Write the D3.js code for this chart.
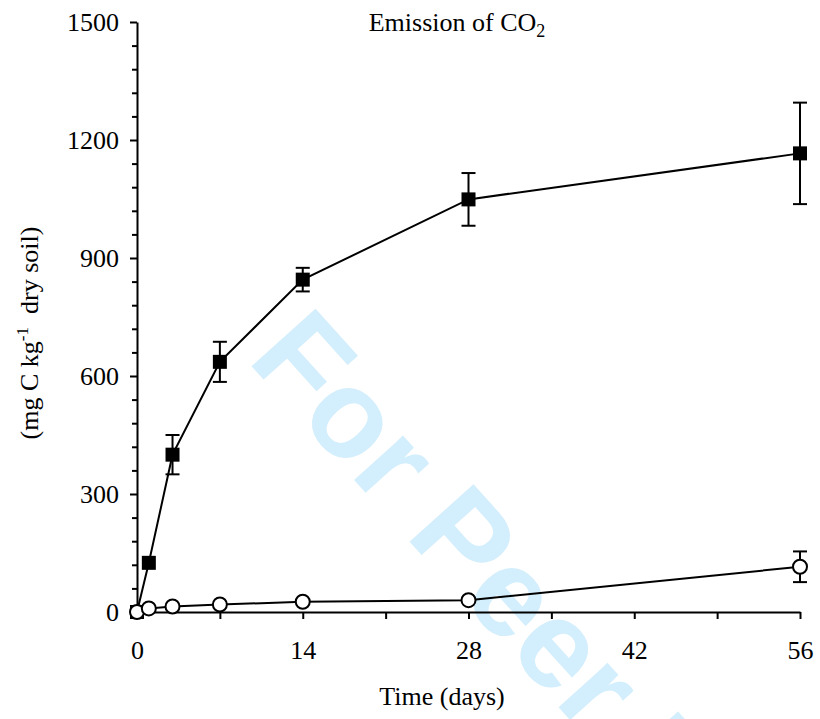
<!DOCTYPE html>
<html>
<head>
<meta charset="utf-8">
<script src="https://cdn.jsdelivr.net/npm/d3@7"></script>
<style>
  html, body { margin: 0; padding: 0; background: #fff; }
  svg { display: block; }
  text { font-family: "Liberation Serif", "DejaVu Serif", serif; fill: #000; }
</style>
</head>
<body>
<svg id="chart" width="820" height="719"></svg>
<script>
// Sampling days
const days = [0, 1, 3, 7, 14, 28, 56];

// Cumulative CO2-C emission (mg C kg-1 dry soil), amended soil
const amendedMean = [0, 125, 400, 636, 845, 1049, 1166];
const amendedErr  = [0, 0, 50, 51, 30, 67, 129];

// Cumulative CO2-C emission, control soil
const controlMean = [0, 9, 14, 19, 26, 30, 115];
const controlErr  = [0, 0, 0, 0, 0, 0, 39];

// Axis ticks
const xTicks = [0, 7, 14, 21, 28, 35, 42, 49, 56];
const xTickLabels = [0, 14, 28, 42, 56];
const yMajor = [0, 300, 600, 900, 1200, 1500];
const yMinor = d3.range(0, 1501, 60).filter(v => v % 300 !== 0);

const svg = d3.select("#chart");
const plotLeft = 137, plotRight = 800, plotTop = 22, plotBottom = 612;

const x = d3.scaleLinear().domain([0, 56]).range([plotLeft, plotRight]);
const y = d3.scaleLinear().domain([0, 1500]).range([plotBottom, plotTop]);

// Background watermark
svg.append("text")
  .attr("transform", "translate(246,360) rotate(48)")
  .style("font-family", "'Liberation Sans', Arial, sans-serif")
  .style("font-weight", "bold")
  .style("font-size", "125px")
  .style("fill", "#d3eefc")
  .text("For Peer Review");

// Y axis: minor ticks, then labelled major ticks
svg.append("g")
  .attr("transform", `translate(${plotLeft},0)`)
  .call(d3.axisLeft(y).tickValues(yMinor).tickSize(5).tickFormat(""))
  .call(g => g.select(".domain").remove());

const yAxis = svg.append("g")
  .attr("transform", `translate(${plotLeft},0)`)
  .call(d3.axisLeft(y).tickValues(yMajor).tickSize(7).tickSizeOuter(0).tickPadding(11)
    .tickFormat(d3.format("d")));

// X axis
const xAxis = svg.append("g")
  .attr("transform", `translate(0,${plotBottom})`)
  .call(d3.axisBottom(x).tickValues(xTicks).tickSize(7).tickSizeOuter(0).tickPadding(22)
    .tickFormat(d => xTickLabels.includes(d) ? d : ""));

[yAxis, xAxis].forEach(g => {
  g.selectAll("text").style("font-size", "26px").style("font-family", "'Liberation Serif', serif");
});
svg.selectAll(".domain").attr("stroke", "#000").attr("stroke-width", 2);
svg.selectAll(".tick line").attr("stroke", "#000").attr("stroke-width", 2);

// Title with subscript
const title = svg.append("text")
  .attr("x", 457).attr("y", 31)
  .attr("text-anchor", "middle")
  .style("font-size", "26px");
title.append("tspan").text("Emission of CO");
title.append("tspan").attr("dy", 6).style("font-size", "18px").text("2");

// Axis titles
svg.append("text")
  .attr("x", 442).attr("y", 705)
  .attr("text-anchor", "middle")
  .style("font-size", "26px")
  .text("Time (days)");

const yl = svg.append("text")
  .attr("transform", "translate(38,333) rotate(-90)")
  .attr("text-anchor", "middle")
  .style("font-size", "26px");
yl.append("tspan").text("(mg C kg");
yl.append("tspan").attr("dy", -10).style("font-size", "17px").text("-1");
yl.append("tspan").attr("dy", 10).text("\u00a0\u00a0dry soil)");

// Series
const series = [
  { mean: amendedMean, err: amendedErr, shape: "square" },
  { mean: controlMean, err: controlErr, shape: "circle" }
];

const line = d3.line().x(d => x(d.day)).y(d => y(d.v));

series.forEach(s => {
  const pts = days.map((d, i) => ({ day: d, v: s.mean[i], e: s.err[i] }));
  const g = svg.append("g");

  g.append("path")
    .datum(pts)
    .attr("d", line)
    .attr("fill", "none")
    .attr("stroke", "#000")
    .attr("stroke-width", 2);

  // Error bars with caps
  const eb = g.selectAll(".eb").data(pts.filter(p => p.e > 0)).enter().append("g");
  eb.append("line")
    .attr("x1", p => x(p.day)).attr("x2", p => x(p.day))
    .attr("y1", p => y(p.v - p.e)).attr("y2", p => y(p.v + p.e))
    .attr("stroke", "#000").attr("stroke-width", 2);
  [1, -1].forEach(sign => {
    eb.append("line")
      .attr("x1", p => x(p.day) - 7).attr("x2", p => x(p.day) + 7)
      .attr("y1", p => y(p.v + sign * p.e)).attr("y2", p => y(p.v + sign * p.e))
      .attr("stroke", "#000").attr("stroke-width", 2);
  });

  if (s.shape === "square") {
    g.selectAll("rect").data(pts).enter().append("rect")
      .attr("x", p => x(p.day) - 7).attr("y", p => y(p.v) - 7)
      .attr("width", 14).attr("height", 14)
      .attr("fill", "#000");
  } else {
    g.selectAll("circle").data(pts).enter().append("circle")
      .attr("cx", p => x(p.day)).attr("cy", p => y(p.v))
      .attr("r", 7)
      .attr("fill", "#fff").attr("stroke", "#000").attr("stroke-width", 2);
  }
});
</script>
</body>
</html>
